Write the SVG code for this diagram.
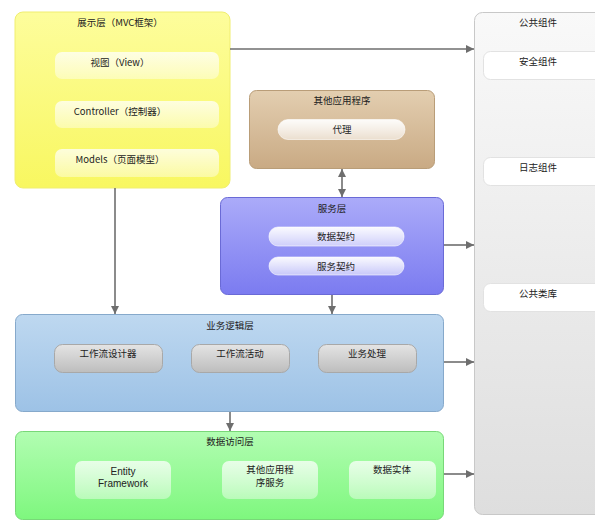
<svg xmlns="http://www.w3.org/2000/svg" width="595" height="527" viewBox="0 0 595 527">
<defs>
<linearGradient id="gY" x1="0" y1="0" x2="0" y2="1"><stop offset="0" stop-color="#fdfd9c"/><stop offset="1" stop-color="#f8f760"/></linearGradient>
<linearGradient id="gBr" x1="0" y1="0" x2="0" y2="1"><stop offset="0" stop-color="#e3ceb0"/><stop offset="1" stop-color="#c9aa84"/></linearGradient>
<linearGradient id="gSv" x1="0" y1="0" x2="0" y2="1"><stop offset="0" stop-color="#ababf9"/><stop offset="1" stop-color="#7b7bf0"/></linearGradient>
<linearGradient id="gBl" x1="0" y1="0" x2="0" y2="1"><stop offset="0" stop-color="#bed8f0"/><stop offset="1" stop-color="#9dc2e6"/></linearGradient>
<linearGradient id="gGr" x1="0" y1="0" x2="0" y2="1"><stop offset="0" stop-color="#b2fdb2"/><stop offset="1" stop-color="#7ef77e"/></linearGradient>
<linearGradient id="gPn" x1="0" y1="0" x2="0" y2="1"><stop offset="0" stop-color="#f9f9f9"/><stop offset="1" stop-color="#dedede"/></linearGradient>
<linearGradient id="gIn" x1="0" y1="0" x2="0" y2="1"><stop offset="0" stop-color="#ffffff" stop-opacity="0.75"/><stop offset="1" stop-color="#ffffff" stop-opacity="0.4"/></linearGradient>
<linearGradient id="gGy" x1="0" y1="0" x2="0" y2="1"><stop offset="0" stop-color="#e4e4e4"/><stop offset="1" stop-color="#bdbdbd"/></linearGradient>
<linearGradient id="gPi" x1="0" y1="0" x2="0" y2="1"><stop offset="0" stop-color="#ffffff" stop-opacity="0.95"/><stop offset="1" stop-color="#ffffff" stop-opacity="0.55"/></linearGradient>
<marker id="ah" viewBox="0 0 10 10" refX="10" refY="5" markerWidth="8" markerHeight="8" markerUnits="userSpaceOnUse" orient="auto-start-reverse"><path d="M0,0 L10,5 L0,10 z" fill="#6e6e6e"/></marker>
</defs>
<style>
text{font-family:"Noto Sans CJK SC","Liberation Sans",sans-serif;font-size:9.5px;fill:#222;text-anchor:middle;}
text.lat{font-family:"Liberation Sans","Noto Sans CJK SC",sans-serif;font-size:10px;}
.conn line{stroke:#6e6e6e;stroke-width:1.6;}
.inner{fill:url(#gIn);}
.pill{fill:url(#gPi);stroke:#ffffff;stroke-opacity:0.6;}
.gray{fill:url(#gGy);stroke:#a8a8a8;stroke-width:1;}
.wbox{fill:#ffffff;stroke:#e2e2e2;stroke-width:1;}
</style>

<g id="public">
<rect x="474.5" y="12.5" width="130" height="502" rx="8" fill="url(#gPn)" stroke="#c8c8c8"/>
<text x="538" y="26">公共组件</text>
<rect class="wbox" x="483.5" y="51.5" width="120" height="28" rx="7"/>
<text x="538" y="65">安全组件</text>
<rect class="wbox" x="483.5" y="157.5" width="120" height="28" rx="7"/>
<text x="538" y="171">日志组件</text>
<rect class="wbox" x="483.5" y="283.5" width="120" height="28" rx="7"/>
<text x="538" y="297">公共类库</text>
</g>

<g id="presentation">
<rect x="15" y="12" width="215" height="176" rx="8" fill="url(#gY)" stroke="#f0ee70"/>
<text x="120" y="26">展示层（MVC框架）</text>
<rect class="inner" x="55" y="52" width="164" height="27" rx="7"/>
<text x="120" y="66">视图（View）</text>
<rect class="inner" x="55" y="101" width="164" height="27" rx="7"/>
<text x="120" y="115">Controller（控制器）</text>
<rect class="inner" x="55" y="149" width="164" height="28" rx="7"/>
<text x="120" y="163">Models（页面模型）</text>
</g>

<g id="otherapps">
<rect x="249.5" y="90.5" width="185" height="78" rx="7" fill="url(#gBr)" stroke="#b99d78"/>
<text x="342" y="104">其他应用程序</text>
<rect class="pill" x="278" y="119.5" width="127" height="20" rx="10"/>
<text x="342" y="133">代理</text>
</g>

<g id="service">
<rect x="220.5" y="197.5" width="223" height="97" rx="7" fill="url(#gSv)" stroke="#6a6ad6"/>
<text x="332" y="212">服务层</text>
<rect class="pill" x="269" y="227" width="135" height="19" rx="9"/>
<text x="336" y="240">数据契约</text>
<rect class="pill" x="269" y="257" width="135" height="18" rx="9"/>
<text x="336" y="270">服务契约</text>
</g>

<g id="business">
<rect x="15.5" y="314.5" width="428" height="97" rx="7" fill="url(#gBl)" stroke="#86a9cb"/>
<text x="230" y="329">业务逻辑层</text>
<rect class="gray" x="54.5" y="344.5" width="108" height="28" rx="8"/>
<text x="108" y="357">工作流设计器</text>
<rect class="gray" x="191.5" y="344.5" width="98" height="28" rx="8"/>
<text x="240" y="357">工作流活动</text>
<rect class="gray" x="318.5" y="344.5" width="98" height="28" rx="8"/>
<text x="367" y="357">业务处理</text>
</g>

<g id="dataaccess">
<rect x="15.5" y="431.5" width="428" height="88" rx="7" fill="url(#gGr)" stroke="#78d878"/>
<text x="230" y="445">数据访问层</text>
<rect class="inner" x="75" y="461" width="96" height="38" rx="7"/>
<text class="lat" x="123" y="475">Entity</text>
<text class="lat" x="123" y="487">Framework</text>
<rect class="inner" x="222" y="461" width="96" height="38" rx="7"/>
<text x="270" y="473">其他应用程</text>
<text x="270" y="486">序服务</text>
<rect class="inner" x="349" y="461" width="87" height="38" rx="7"/>
<text x="392" y="473">数据实体</text>
</g>

<g class="conn" id="connectors">
<line x1="230" y1="49" x2="474" y2="49" marker-end="url(#ah)"/>
<line x1="444" y1="245" x2="474" y2="245" marker-end="url(#ah)"/>
<line x1="444" y1="362" x2="474" y2="362" marker-end="url(#ah)"/>
<line x1="444" y1="474" x2="474" y2="474" marker-end="url(#ah)"/>
<line x1="342" y1="169" x2="342" y2="197" marker-start="url(#ah)" marker-end="url(#ah)"/>
<line x1="115" y1="188" x2="115" y2="314" marker-end="url(#ah)"/>
<line x1="332" y1="295" x2="332" y2="314" marker-end="url(#ah)"/>
<line x1="230" y1="412" x2="230" y2="431" marker-end="url(#ah)"/>
</g>
</svg>
